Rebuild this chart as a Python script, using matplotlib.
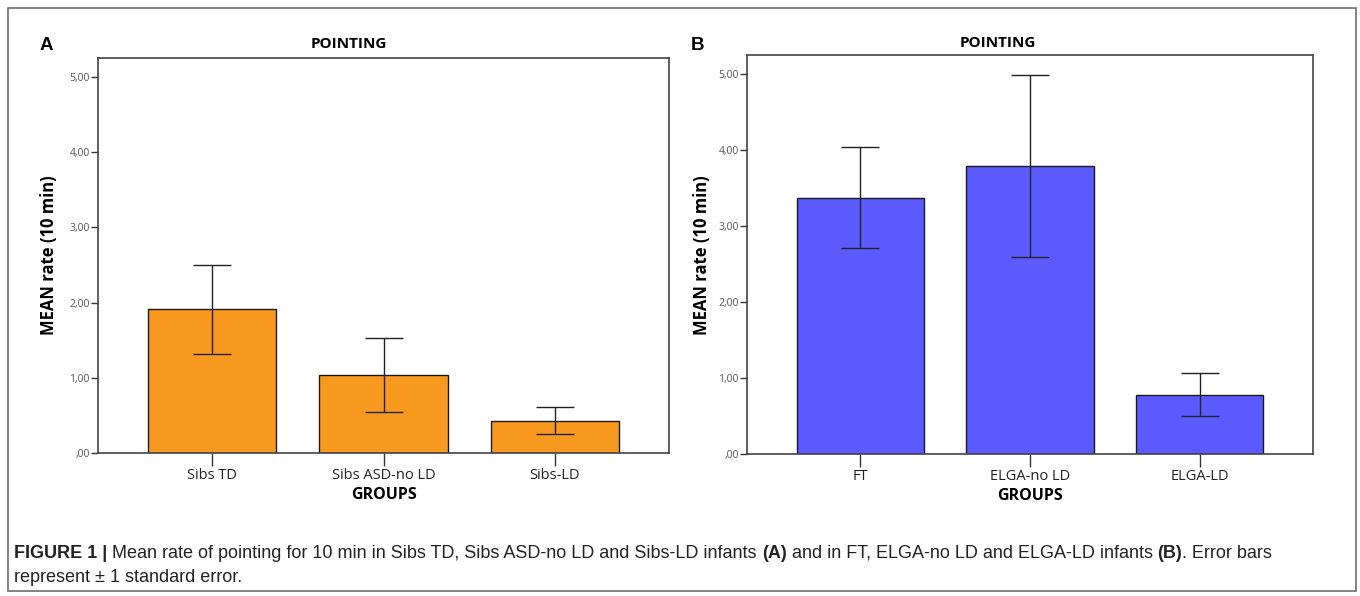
import numpy as np
import matplotlib.pyplot as plt
from matplotlib.patches import Rectangle

# panel A
groups_a = ['Sibs TD', 'Sibs ASD-no LD', 'Sibs-LD']
mean_a = [1.91, 1.04, 0.43]
se_a = [0.59, 0.49, 0.18]

# panel B
groups_b = ['FT', 'ELGA-no LD', 'ELGA-LD']
mean_b = [3.37, 3.79, 0.78]
se_b = [0.665, 1.20, 0.285]

yticks = [0, 1, 2, 3, 4, 5]
ytick_labels = [',00', '1,00', '2,00', '3,00', '4,00', '5,00']

caption_1 = [('FIGURE 1 | ', 'bold'),
             ('Mean rate of pointing for 10 min in Sibs TD, Sibs ASD-no LD and Sibs-LD infants ', 'normal'),
             ('(A)', 'bold'),
             (' and in FT, ELGA-no LD and ELGA-LD infants ', 'normal'),
             ('(B)', 'bold'),
             ('. Error bars', 'normal')]
caption_2 = 'represent \u00b1 1 standard error.'

W, H = 1360, 596
fig = plt.figure(figsize=(W / 100, H / 100), dpi=100)

def px(x, y):
    return x / W, 1 - y / H

chart_font = 'Open Sans'

def panel(rect, groups, means, ses, color, letter, lx, ly, tx, ty, ylx):
    ax = fig.add_axes(rect)
    x = np.arange(len(groups))
    ax.bar(x, means, width=0.75, color=color, edgecolor='#1a1a1a', linewidth=1.0, zorder=2)
    ax.errorbar(x, means, yerr=ses, fmt='none', ecolor='#222222', elinewidth=1.0,
                capsize=13.5, capthick=1.0, zorder=3)
    ax.set_xlim(-0.667, len(groups) - 1 + 0.667)
    ax.set_ylim(0, 5.25)
    ax.set_yticks(yticks)
    ax.set_yticklabels(ytick_labels, fontsize=7.5, color='#555555', family=chart_font)
    ax.set_xticks(x)
    ax.set_xticklabels(groups, fontsize=10.5, color='#222222', family=chart_font)
    ax.tick_params(axis='y', length=5, width=1, color='#333333', pad=1)
    ax.tick_params(axis='x', length=9, width=1, color='#333333', pad=2)
    for s in ax.spines.values():
        s.set_color('#444444')
        s.set_linewidth(1.2)
    ax.set_xlabel('GROUPS', fontsize=11.5, fontweight='bold', family=chart_font, labelpad=3)
    fig.text(*px(ylx, 255), 'MEAN rate (10 min)', rotation=90, fontsize=12,
             fontweight='bold', family=chart_font, ha='center', va='center')
    fig.text(*px(tx, ty), 'POINTING', fontsize=11, fontweight='bold',
             family=chart_font, ha='center', va='center')
    fig.text(*px(lx, ly), letter, fontsize=13.5, fontweight='bold',
             family='Liberation Sans', ha='center', va='center')
    return ax

panel([98 / W, 1 - 453 / H, 571 / W, 395 / H], groups_a, mean_a, se_a,
      '#F7981F', 'A', 46, 45, 349, 44, 49)
panel([747 / W, 1 - 454 / H, 566 / W, 399 / H], groups_b, mean_b, se_b,
      '#5A5AFF', 'B', 698, 45, 998, 43, 702)

# outer frame
fig.patches.append(Rectangle((8 / W, 1 - 591 / H), 1348 / W, 583 / H,
                             transform=fig.transFigure, fill=False,
                             edgecolor='#6e6e6e', linewidth=1.2))

# caption, pieces placed one after another
cap_size = 13
renderer = fig.canvas.get_renderer()
x0 = 14
for txt, wt in caption_1:
    t = fig.text(*px(x0, 553), txt, fontsize=cap_size, fontweight=wt, va='center',
                 family='Liberation Sans', color='#222222')
    bb = t.get_window_extent(renderer=renderer)
    x0 += bb.width
fig.text(*px(14, 577), caption_2, fontsize=cap_size, va='center',
         family='Liberation Sans', color='#222222')

plt.savefig('out.png', dpi=100)
